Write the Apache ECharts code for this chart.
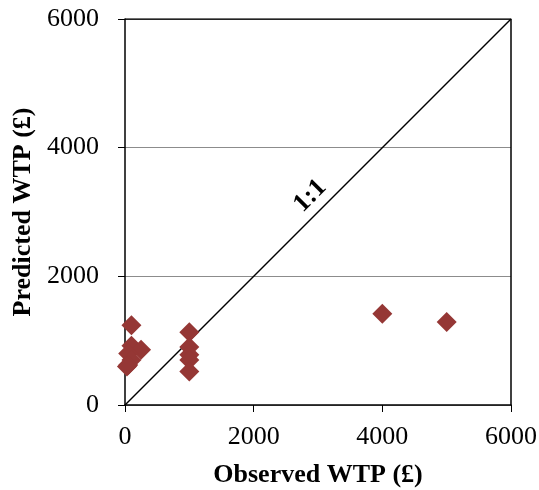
<!DOCTYPE html>
<html>
<head>
<meta charset="utf-8">
<script src="https://cdn.jsdelivr.net/npm/echarts@6/dist/echarts.min.js"></script>
<style>
  html, body { margin: 0; padding: 0; background: #fff; }
  #main { width: 539px; height: 490px; }
</style>
</head>
<body>
<div id="main"></div>
<script>
// observed vs predicted WTP (£)
var observed  = [100, 100, 250, 50, 100, 50, 30, 1000, 1000, 1000, 1000, 1000, 4000, 5000];
var predicted = [1240, 920, 860, 800, 700, 620, 600, 1130, 900, 780, 700, 520, 1420, 1290];
var oneToOne = [[0, 0], [6000, 6000]];
var labelPos = [2880, 3250];

var pts = observed.map(function (x, i) { return [x, predicted[i]]; });

var font = 'Liberation Serif, Times New Roman, serif';
var plain = function (v) { return String(v); };
var chart = echarts.init(document.getElementById('main'));
chart.setOption({
    animation: false,
    grid: { left: 125, right: 28, top: 19, bottom: 85, outerBoundsMode: 'none', containLabel: false },
    xAxis: {
        type: 'value', min: 0, max: 6000, interval: 2000,
        name: 'Observed WTP (£)', nameLocation: 'middle', nameGap: 57,
        nameTextStyle: { fontFamily: font, fontSize: 26, fontWeight: 'bold', color: '#000' },
        axisLine: { show: true, lineStyle: { color: '#000', width: 1.5 } },
        axisTick: { show: true, inside: false, length: 7, lineStyle: { color: '#000' } },
        axisLabel: { fontFamily: font, fontSize: 26, color: '#000', margin: 19, formatter: plain },
        splitLine: { show: false }
    },
    yAxis: {
        type: 'value', min: 0, max: 6000, interval: 2000,
        name: 'Predicted WTP (£)', nameLocation: 'middle', nameGap: 87,
        nameTextStyle: { fontFamily: font, fontSize: 26, fontWeight: 'bold', color: '#000' },
        axisLine: { show: true, lineStyle: { color: '#000', width: 1.5 } },
        axisTick: { show: true, inside: false, length: 7, lineStyle: { color: '#000' } },
        axisLabel: { fontFamily: font, fontSize: 26, color: '#000', margin: 26, formatter: plain },
        splitLine: { show: true, lineStyle: { color: '#8c8c8c', width: 1 } }
    },
    series: [
        {
            type: 'line',
            data: oneToOne,
            symbol: 'none',
            lineStyle: { color: '#000', width: 1.5 },
            z: 1,
            markPoint: {
                symbol: 'circle', symbolSize: 0,
                data: [{ coord: labelPos, value: '1:1' }],
                label: {
                    show: true, formatter: '1:1', rotate: 45,
                    fontFamily: font, fontSize: 26, fontWeight: 'bold', color: '#000'
                }
            }
        },
        {
            type: 'scatter',
            data: pts,
            symbol: 'diamond',
            symbolSize: 20,
            itemStyle: { color: '#953735', opacity: 1 },
            z: 3
        },
        {
            // top and right frame
            type: 'line',
            data: [[0, 6000], [6000, 6000], [6000, 0]],
            symbol: 'none',
            lineStyle: { color: '#000', width: 1.5 },
            z: 2
        }
    ]
});
</script>
</body>
</html>
